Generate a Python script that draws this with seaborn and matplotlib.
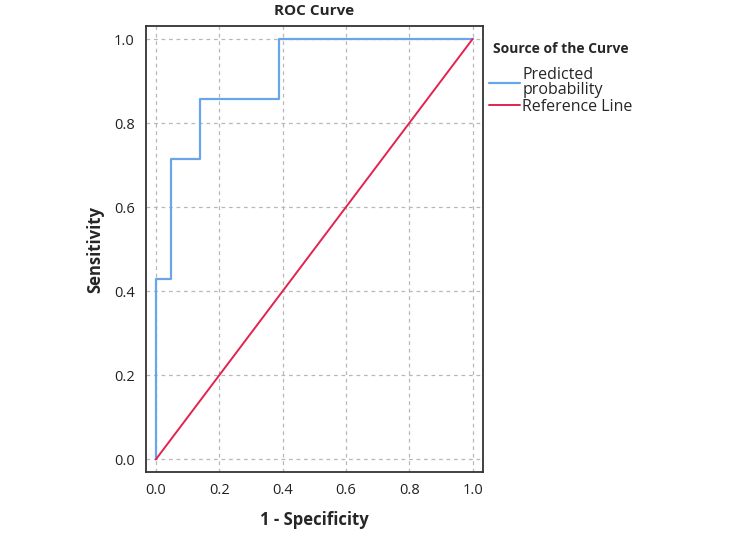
import pandas as pd
import seaborn as sns
import matplotlib.pyplot as plt

# ROC points
fpr = [0.0, 0.0, 0.048, 0.048, 0.14, 0.14, 0.39, 0.39, 1.0]
tpr = [0.0, 0.43, 0.43, 0.714, 0.714, 0.857, 0.857, 1.0, 1.0]
ref_x = [0.0, 1.0]
ref_y = [0.0, 1.0]
ticks = [0.0, 0.2, 0.4, 0.6, 0.8, 1.0]
tick_labels = ['0.0', '0.2', '0.4', '0.6', '0.8', '1.0']

roc = pd.DataFrame({'fpr': fpr, 'tpr': tpr})
ref = pd.DataFrame({'x': ref_x, 'y': ref_y})

sns.set_style('white')
plt.rcParams['font.family'] = ['Open Sans', 'DejaVu Sans']

fig = plt.figure(figsize=(7.5, 5.37), dpi=100)
ax = fig.add_axes([0.1947, 0.121, 0.4493, 0.8305])

sns.lineplot(data=roc, x='fpr', y='tpr', sort=False, estimator=None,
             color='#6aa5ea', linewidth=1.6, label='Predicted\nprobability', ax=ax)
sns.lineplot(data=ref, x='x', y='y', sort=False, estimator=None,
             color='#e3234f', linewidth=1.4, label='Reference Line', ax=ax)

ax.set_xlim(-0.031, 1.033)
ax.set_ylim(-0.030, 1.031)
ax.set_xticks(ticks)
ax.set_xticklabels(tick_labels)
ax.set_yticks(ticks)
ax.set_yticklabels(tick_labels)
ax.tick_params(length=0, labelsize=10.5, colors='#222222', pad=8)
ax.grid(True, linestyle=(0, (3, 3)), color='#b8b8b8', linewidth=0.9)
for s in ax.spines.values():
    s.set_color('#333333')
    s.set_linewidth(1.3)

ax.set_xlabel('1 - Specificity', fontsize=12, fontweight='bold', labelpad=9)
ax.set_ylabel('Sensitivity', fontsize=12, fontweight='bold', labelpad=7)
ax.set_title('ROC Curve', fontsize=11, fontweight='bold', pad=8)

leg = ax.legend(title='Source of the Curve', loc='upper left',
                bbox_to_anchor=(0.986, 0.99), frameon=False, fontsize=11.5,
                title_fontproperties={'weight': 'bold', 'size': 10},
                handlelength=1.9, handletextpad=0.15, labelspacing=0.05,
                borderaxespad=0.3)
leg._legend_box.align = 'center'
leg._legend_box.sep = 8
leg.get_texts()[0].set_linespacing(0.95)

fig.savefig('out.png', dpi=100)
